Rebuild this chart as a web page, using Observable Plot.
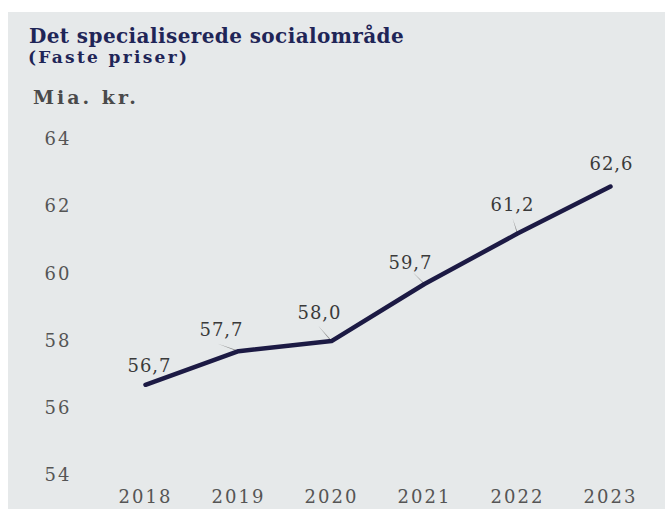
<!DOCTYPE html>
<html>
<head>
<meta charset="utf-8">
<script src="https://cdn.jsdelivr.net/npm/d3@7"></script>
<script src="https://cdn.jsdelivr.net/npm/@observablehq/plot@0.6"></script>
<style>
  html, body { margin: 0; padding: 0; background: #ffffff; }
  #wrap { position: absolute; left: 8px; top: 12px; width: 657px; height: 497px; background: #e6e9ea; overflow: hidden; }
  .t { position: absolute; font-family: "DejaVu Serif", serif; font-weight: bold; white-space: nowrap; line-height: 1; }
  #title { left: 21px; top: 14px; font-size: 20px; letter-spacing: 0.4px; color: #1f2557; }
  #sub { left: 20px; top: 37px; font-size: 17px; letter-spacing: 2.3px; color: #1f2557; }
  #unit { left: 25px; top: 76px; font-size: 19px; letter-spacing: 3px; color: #4a4a4a; }
  #chart { position: absolute; left: 0; top: 103px; }
  #chart svg text { letter-spacing: 2px; }
  #chart svg text.lbl { letter-spacing: 1px; }
</style>
</head>
<body>
<div id="wrap">
  <div class="t" id="title">Det specialiserede socialområde</div>
  <div class="t" id="sub">(Faste priser)</div>
  <div class="t" id="unit">Mia. kr.</div>
  <div id="chart"></div>
</div>
<script>
const years = ["2018", "2019", "2020", "2021", "2022", "2023"];
const values = [56.7, 57.7, 58.0, 59.7, 61.2, 62.6];
const yTicks = [54, 56, 58, 60, 62, 64];

const data = years.map((year, i) => ({year, value: values[i]}));
const fmt = v => v.toFixed(1).replace(".", ",");

// label placement (pixels) relative to each point
const labelPos = [
  {dx: 4, dy: -19},
  {dx: -17, dy: -21},
  {dx: -12, dy: -28},
  {dx: -14, dy: -21},
  {dx: -5, dy: -28},
  {dx: 1, dy: -22}
];
// leader lines: [index, rotate (deg), length (px)]
const leaders = [
  {i: 1, rotate: -70, length: 22},
  {i: 2, rotate: -41, length: 20},
  {i: 3, rotate: -45, length: 17},
  {i: 4, rotate: -18, length: 16}
];

const labelMarks = data.map((d, i) => Plot.text([d], {
  x: "year", y: "value", text: d => fmt(d.value),
  dx: labelPos[i].dx, dy: labelPos[i].dy,
  fontSize: 18, fill: "#3a3a3a", fontFamily: "DejaVu Serif", className: "lbl"
}));

const leaderMarks = leaders.map(l => Plot.vector([data[l.i]], {
  x: "year", y: "value", rotate: l.rotate, length: l.length,
  shape: "spike", r: 0.5, anchor: "start", fill: "#8a8a8a", stroke: "none"
}));

const chart = Plot.plot({
  width: 657,
  height: 394,
  marginLeft: 135,
  marginRight: 53,
  marginTop: 24,
  marginBottom: 34,
  style: {fontFamily: "DejaVu Serif", fontSize: "18px", color: "#555", background: "transparent", overflow: "visible"},
  x: {type: "point", domain: years, padding: 0, label: null},
  y: {domain: [54, 64], label: null},
  length: {type: "identity"},
  marks: [
    Plot.axisY({ticks: yTicks, tickSize: 0, tickPadding: 0, textAnchor: "start", dx: -99, fill: "#555", fontSize: 18, label: null, tickFormat: d => String(d)}),
    Plot.axisX({tickSize: 0, tickPadding: 15, fill: "#555", fontSize: 18, label: null}),
    ...leaderMarks,
    Plot.line(data, {x: "year", y: "value", stroke: "#1c1a44", strokeWidth: 4.5, strokeLinejoin: "round"}),
    ...labelMarks
  ]
});
document.getElementById("chart").querySelectorAll && document.getElementById("chart").appendChild(chart);
chart.querySelectorAll("g.lbl text, text.lbl").forEach(t => t.classList.add("lbl"));
</script>
</body>
</html>
